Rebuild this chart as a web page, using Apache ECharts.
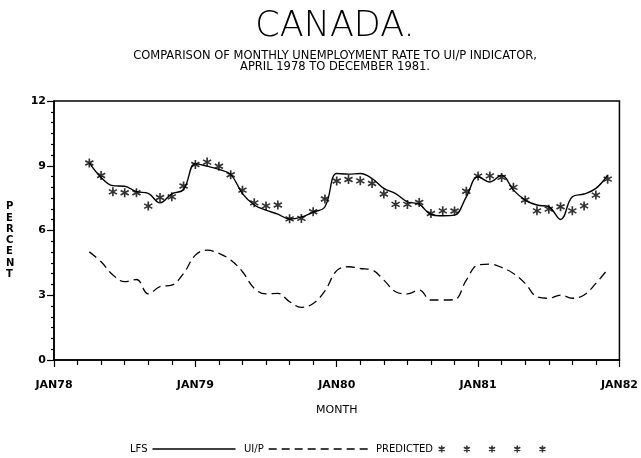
<!DOCTYPE html>
<html>
<head>
<meta charset="utf-8">
<script src="https://cdn.jsdelivr.net/npm/echarts@6/dist/echarts.min.js"></script>
<style>
  html, body { margin: 0; padding: 0; background: #fff; }
  #main { width: 641px; height: 458px; }
</style>
</head>
<body>
<div id="main"></div>
<script>
// monthly data, April 1978 to December 1981
let startYear = 1978;
let startMonth = 4;

let lfs = [
  9.13, 8.46, 8.08, 8.05, 7.80, 7.72, 7.28, 7.70, 7.90,
  9.10, 8.98, 8.83, 8.60, 7.71, 7.18, 6.94, 6.76, 6.53, 6.62, 6.85, 7.10,
  8.64, 8.61, 8.64, 8.41, 7.95, 7.71, 7.33, 7.22, 6.74, 6.68, 6.71, 7.56,
  8.49, 8.25, 8.56, 7.87, 7.41, 7.18, 7.10, 6.51, 7.56, 7.69, 7.95, 8.56
];
let uip = [
  5.01, 4.55, 3.94, 3.63, 3.73, 3.06, 3.40, 3.47, 4.01,
  4.86, 5.09, 4.94, 4.63, 4.09, 3.32, 3.06, 3.09, 2.70, 2.44, 2.62, 3.20,
  4.14, 4.32, 4.24, 4.17, 3.70, 3.16, 3.06, 3.24, 2.78, 2.78, 2.80, 3.70,
  4.40, 4.44, 4.29, 4.01, 3.55, 2.93, 2.86, 3.01, 2.86, 3.01, 3.55, 4.20
];
let predicted = [
  9.13, 8.55, 7.79, 7.75, 7.75, 7.13, 7.53, 7.56, 8.06,
  9.06, 9.17, 8.98, 8.58, 7.87, 7.28, 7.14, 7.18, 6.54, 6.56, 6.87, 7.46,
  8.29, 8.36, 8.30, 8.18, 7.69, 7.21, 7.21, 7.30, 6.79, 6.91, 6.90, 7.82,
  8.52, 8.53, 8.46, 8.00, 7.41, 6.91, 6.99, 7.10, 6.91, 7.14, 7.64, 8.38
];
let yearLabels = ['JAN78', 'JAN79', 'JAN80', 'JAN81', 'JAN82'];

// month position on the x axis (years)
function monthX(i) {
  return startYear + (startMonth - 1 + i) / 12;
}
function pairs(arr) {
  return arr.map((v, i) => [monthX(i), v]);
}

// asterisk = three bars through the centre of a 10x10 box
function starPath(ox, hw) {
  let s = '';
  [90, 30, 150].forEach(a => {
    let r = a * Math.PI / 180;
    let dx = Math.cos(r) * 5, dy = Math.sin(r) * 5;
    let px = -Math.sin(r) * hw, py = Math.cos(r) * hw;
    let pts = [
      [5 - dx + px, 5 - dy + py], [5 - dx - px, 5 - dy - py],
      [5 + dx - px, 5 + dy - py], [5 + dx + px, 5 + dy + py]
    ];
    s += 'M' + pts.map(p => (p[0] + ox).toFixed(2) + ',' + p[1].toFixed(2)).join('L') + 'Z';
  });
  return s;
}
let star = 'path://' + starPath(0, 0.9);
let stars5 = 'path://';
for (let k = 0; k < 5; k++) stars5 += starPath(k * 36, 1.1);

// legend line samples
let solidIcon = 'path://M0,0L83,0L83,1.3L0,1.3Z';
let dashIcon = 'path://';
for (let k = 0; k < 8; k++) {
  let o = k * 13;
  dashIcon += 'M' + o + ',0L' + (o + 8) + ',0L' + (o + 8) + ',1.3L' + o + ',1.3Z';
}

let font = 'DejaVu Sans';
let legendText = { fontFamily: font, fontSize: 10, color: '#000' };

let chart = echarts.init(document.getElementById('main'));
let option = {
  animation: false,
  backgroundColor: '#fff',
  title: [
    {
      text: 'CANADA.',
      left: 330, top: 4, textAlign: 'center',
      textStyle: { fontFamily: font, fontSize: 35, fontWeight: 200, color: '#000' }
    },
    {
      text: 'COMPARISON OF MONTHLY UNEMPLOYMENT RATE TO UI/P INDICATOR,\nAPRIL 1978 TO DECEMBER 1981.',
      left: 330, top: 46, textAlign: 'center',
      textStyle: { fontFamily: font, fontSize: 11.5, fontWeight: 'normal', lineHeight: 11, color: '#000' }
    }
  ],
  graphic: [
    {
      type: 'text', left: 6, top: 201,
      style: {
        text: 'P\nE\nR\nC\nE\nN\nT', fill: '#000', align: 'center',
        font: 'bold 10px "DejaVu Sans"', lineHeight: 11.3
      }
    }
  ],
  legend: [
    {
      data: [{ name: 'LFS', icon: solidIcon }], left: 125, top: 439, align: 'right',
      itemWidth: 83, itemHeight: 1.3, textStyle: legendText
    },
    {
      data: [{ name: 'UI/P', icon: dashIcon }], left: 239, top: 439, align: 'right',
      itemWidth: 99, itemHeight: 1.3, textStyle: legendText
    },
    {
      data: [{ name: 'PREDICTED', icon: stars5 }], left: 371, top: 439, align: 'right',
      itemWidth: 108, itemHeight: 7, textStyle: legendText
    }
  ],
  grid: {
    left: 54, right: 13, top: 101, bottom: 98,
    show: true, borderColor: '#000', borderWidth: 1.5
  },
  xAxis: {
    type: 'value',
    min: 1978, max: 1982, interval: 1,
    name: 'MONTH', nameLocation: 'middle', nameGap: 45,
    nameTextStyle: { fontFamily: font, fontSize: 11, color: '#000' },
    axisLine: { lineStyle: { color: '#000', width: 1.5 } },
    axisTick: { length: 7, lineStyle: { color: '#000', width: 1.2 } },
    minorTick: { show: true, splitNumber: 6, length: 5, lineStyle: { color: '#000', width: 1.2 } },
    splitLine: { show: false },
    axisLabel: {
      margin: 20, fontFamily: font, fontSize: 11, fontWeight: 'bold', color: '#000',
      formatter: v => yearLabels[Math.round(v - 1978)]
    }
  },
  yAxis: {
    type: 'value',
    min: 0, max: 12, interval: 3,
    axisLine: { show: true, lineStyle: { color: '#000', width: 1.5 } },
    axisTick: { show: true, length: 7, lineStyle: { color: '#000', width: 1.2 } },
    minorTick: { show: true, splitNumber: 6, length: 3, lineStyle: { color: '#000', width: 1.2 } },
    splitLine: { show: false },
    axisLabel: { margin: 8, fontFamily: font, fontSize: 11, fontWeight: 'bold', color: '#000' }
  },
  series: [
    {
      name: 'LFS', type: 'line', data: pairs(lfs),
      smooth: 0.4, symbol: 'none',
      lineStyle: { color: '#000', width: 1.4 },
      itemStyle: { color: '#000' }
    },
    {
      name: 'UI/P', type: 'line', data: pairs(uip),
      smooth: 0.4, symbol: 'none',
      lineStyle: { color: '#000', width: 1.3, type: [9, 5] },
      itemStyle: { color: '#000' }
    },
    {
      name: 'PREDICTED', type: 'scatter', data: pairs(predicted),
      symbol: star, symbolSize: 9,
      itemStyle: { color: '#000' }
    }
  ]
};
chart.setOption(option);
</script>
</body>
</html>
